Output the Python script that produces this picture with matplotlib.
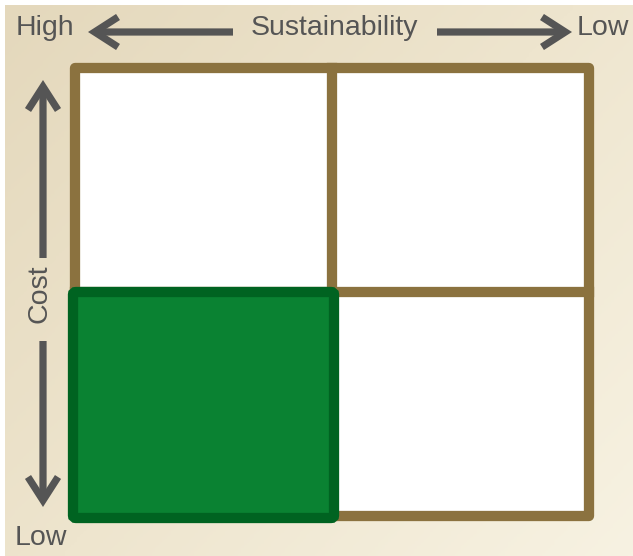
import numpy as np
import matplotlib
matplotlib.use("Agg")
import matplotlib.pyplot as plt
from matplotlib.patches import FancyBboxPatch
from matplotlib.colors import LinearSegmentedColormap

# ---- data ----
x_axis_title = "Sustainability"
x_ends = ["High", "Low"]          # left, right
y_axis_title = "Cost"
y_ends = ["High", "Low"]          # top, bottom (top label not shown)
cols = [0, 1]                     # sustainability columns (0 = high)
rows = [0, 1]                     # cost rows (0 = low, bottom)
highlight_cell = (0, 0)           # high sustainability, low cost

W, H = 633, 556
fig = plt.figure(figsize=(W / 100, H / 100), dpi=100)
fig.patch.set_facecolor("white")

# background gradient
bg = fig.add_axes([5 / W, 0, (W - 5) / W, (H - 5) / H])
bg.set_axis_off()
cmap = LinearSegmentedColormap.from_list("bg", ["#E4D8BC", "#EEE5CE", "#F7F2E2"])
yy, xx = np.mgrid[0:1:200j, 0:1:200j]
grad = (xx * 0.55 + yy * 0.45)
bg.imshow(grad, cmap=cmap, aspect="auto", extent=[0, 1, 0, 1], origin="upper")

# overlay axes in pixel coords
ov = fig.add_axes([0, 0, 1, 1])
ov.set_xlim(0, W)
ov.set_ylim(H, 0)
ov.set_axis_off()

txt = dict(color="#555555", fontsize=20.5, family=["Liberation Sans", "DejaVu Sans"],
           va="center")
ov.text(16, 28, x_ends[0], ha="left", **txt)
ov.text(334, 28, x_axis_title, ha="center", **txt)
ov.text(577, 28, x_ends[1], ha="left", **txt)
ov.text(15, 538, y_ends[1], ha="left", **txt)
ov.text(40, 294, y_axis_title, ha="center", rotation=90, **txt)

arrow_kw = dict(arrowstyle="->,head_length=0.42,head_width=0.27", lw=5.2,
                color="#555555", shrinkA=0, shrinkB=0, mutation_scale=40,
                joinstyle="miter", capstyle="butt")
ov.annotate("", xy=(88, 32), xytext=(233, 32), arrowprops=arrow_kw)
ov.annotate("", xy=(572, 32), xytext=(437, 32), arrowprops=arrow_kw)
ov.annotate("", xy=(43, 80), xytext=(43, 258), arrowprops=arrow_kw)
ov.annotate("", xy=(43, 507), xytext=(43, 341), arrowprops=arrow_kw)

# grid axes
L, R, T, B = 75, 589, 68, 516
ga = fig.add_axes([L / W, (H - B) / H, (R - L) / W, (B - T) / H])
ga.set_xlim(0, 2)
ga.set_ylim(0, 2)
ga.set_axis_off()
ga.patch.set_alpha(0)

brown = "#8B723F"
lw = 7.4
for c in cols:
    for r in rows:
        ga.add_patch(plt.Rectangle((c, r), 1, 1, facecolor="white",
                                   edgecolor="none", zorder=1))
ga.plot([0, 2, 2, 0, 0], [0, 0, 2, 2, 0], color=brown, lw=lw,
        solid_joinstyle="round", solid_capstyle="round", zorder=2, clip_on=False)
ga.plot([1, 1], [0, 2], color=brown, lw=lw, zorder=2, clip_on=False)
ga.plot([0, 2], [1, 1], color=brown, lw=lw, zorder=2, clip_on=False)

hc, hr = highlight_cell
sx, sy = 2 / (R - L), 2 / (B - T)
ga.add_patch(FancyBboxPatch((hc - 2 * sx, hr - 2 * sy), 1 + 4 * sx, 1 + 2 * sy,
                            boxstyle="round,pad=0,rounding_size=0.012",
                            facecolor="#0A8232", edgecolor="#006321",
                            lw=7.4, zorder=3, clip_on=False))

fig.savefig("out.png", dpi=100)
